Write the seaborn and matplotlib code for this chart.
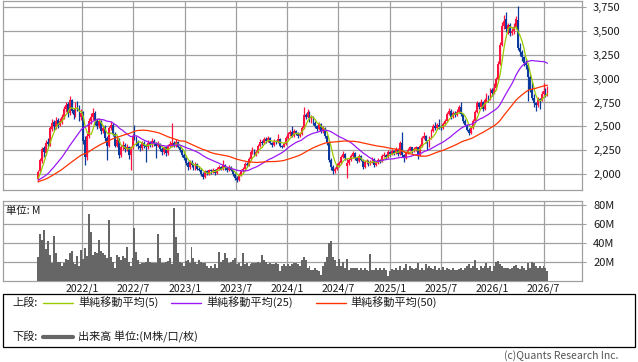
import numpy as np
import pandas as pd
import matplotlib.pyplot as plt
from matplotlib.lines import Line2D
from matplotlib.patches import Rectangle
import seaborn as sns

# weekly closes before the visible window (only used for the moving averages)
prev_closes = [
    1890, 1910, 1900, 1880, 1870, 1895, 1920, 1905, 1890, 1915,
    1930, 1900, 1885, 1905, 1920, 1935, 1910, 1895, 1915, 1940,
    1925, 1905, 1890, 1910, 1930, 1945, 1920, 1935, 1950, 1925,
    1910, 1930, 1955, 1940, 1920, 1935, 1960, 1945, 1925, 1940,
    1955, 1935, 1920, 1945, 1960, 1950, 1930, 1945, 1955,
]

opens = [
    1950, 2030, 2140, 2270, 2220, 2340, 2320, 2470, 2550, 2490,
    2570, 2520, 2550, 2600, 2680, 2730, 2640, 2780, 2670, 2620,
    2730, 2700, 2600, 2650, 2360, 2180, 2400, 2560, 2600, 2640,
    2560, 2500, 2560, 2450, 2490, 2380, 2300, 2480, 2520, 2420,
    2300, 2360, 2200, 2280, 2310, 2260, 2280, 2200, 2280, 2500,
    2380, 2340, 2300, 2270, 2330, 2300, 2280, 2330, 2310, 2350,
    2330, 2300, 2320, 2260, 2230, 2280, 2220, 2300, 2300, 2330,
    2300, 2340, 2290, 2250, 2200, 2170, 2120, 2080, 2130, 2100,
    2070, 2110, 2060, 2050, 2000, 1970, 2030, 2010, 2040, 2030,
    2050, 2010, 2060, 2080, 2060, 2100, 2070, 2040, 2080, 2050,
    2000, 1960, 1940, 1990, 2040, 2060, 2110, 2100, 2160, 2230,
    2250, 2210, 2230, 2300, 2340, 2330, 2370, 2350, 2380, 2330,
    2310, 2350, 2340, 2370, 2300, 2290, 2320, 2380, 2420, 2440,
    2400, 2450, 2430, 2400, 2420, 2480, 2620, 2600, 2650, 2560,
    2600, 2540, 2500, 2470, 2530, 2450, 2480, 2400, 2330, 2150,
    2080, 2030, 2060, 2100, 2120, 2180, 2210, 2090, 2120, 2150,
    2190, 2220, 2170, 2140, 2190, 2150, 2080, 2130, 2140, 2110,
    2130, 2160, 2100, 2120, 2150, 2140, 2190, 2200, 2180, 2230,
    2210, 2240, 2220, 2260, 2210, 2330, 2200, 2170, 2220, 2250,
    2280, 2240, 2260, 2280, 2200, 2300, 2380, 2400, 2350, 2300,
    2380, 2450, 2500, 2480, 2520, 2490, 2480, 2530, 2560, 2630,
    2660, 2600, 2640, 2620, 2650, 2700, 2630, 2560, 2520, 2460,
    2430, 2480, 2560, 2650, 2740, 2700, 2760, 2680, 2780, 2820,
    2790, 2880, 2850, 2900, 3000, 3150, 3350, 3550, 3620, 3520,
    3560, 3480, 3500, 3540, 3610, 3320, 3280, 3220, 3160, 3140,
    3020, 2880, 2800, 2740, 2720, 2790, 2780, 2840, 2870, 2830,
]
highs = [
    2040, 2170, 2290, 2300, 2360, 2380, 2500, 2580, 2570, 2600,
    2590, 2590, 2630, 2710, 2760, 2750, 2815, 2790, 2690, 2750,
    2770, 2720, 2680, 2660, 2400, 2430, 2590, 2640, 2690, 2660,
    2590, 2590, 2570, 2520, 2510, 2400, 2500, 2560, 2540, 2440,
    2400, 2380, 2310, 2350, 2330, 2320, 2300, 2300, 2420, 2520,
    2400, 2360, 2320, 2350, 2350, 2320, 2360, 2350, 2380, 2370,
    2340, 2350, 2330, 2280, 2300, 2290, 2320, 2350, 2540, 2350,
    2370, 2350, 2300, 2260, 2220, 2180, 2140, 2150, 2150, 2120,
    2130, 2120, 2090, 2070, 2020, 2050, 2050, 2060, 2060, 2070,
    2060, 2080, 2100, 2090, 2150, 2110, 2080, 2100, 2090, 2060,
    2010, 1980, 2010, 2060, 2080, 2130, 2130, 2180, 2250, 2280,
    2260, 2250, 2320, 2370, 2360, 2390, 2390, 2400, 2390, 2340,
    2370, 2360, 2420, 2380, 2310, 2340, 2400, 2440, 2460, 2500,
    2470, 2460, 2440, 2440, 2500, 2705, 2640, 2680, 2660, 2620,
    2610, 2560, 2520, 2550, 2540, 2500, 2490, 2410, 2340, 2170,
    2100, 2080, 2120, 2140, 2200, 2240, 2220, 2170, 2170, 2210,
    2240, 2230, 2180, 2210, 2200, 2160, 2150, 2160, 2150, 2150,
    2180, 2170, 2140, 2170, 2160, 2210, 2230, 2210, 2250, 2240,
    2260, 2250, 2280, 2270, 2350, 2440, 2210, 2240, 2270, 2300,
    2290, 2280, 2300, 2290, 2320, 2400, 2440, 2410, 2360, 2400,
    2470, 2530, 2550, 2540, 2580, 2510, 2550, 2580, 2650, 2690,
    2680, 2660, 2660, 2680, 2720, 2750, 2640, 2580, 2530, 2480,
    2500, 2580, 2670, 2770, 2760, 2790, 2770, 2800, 2850, 2830,
    2900, 2900, 2950, 3020, 3180, 3380, 3590, 3660, 3700, 3580,
    3580, 3530, 3580, 3650, 3760, 3370, 3300, 3240, 3200, 3160,
    3040, 2960, 2840, 2760, 2810, 2800, 2870, 2950, 2900, 2920,
]
lows = [
    1920, 2010, 2120, 2180, 2200, 2280, 2300, 2450, 2460, 2470,
    2480, 2500, 2530, 2580, 2650, 2600, 2620, 2640, 2580, 2600,
    2660, 2560, 2570, 2320, 2100, 2150, 2380, 2530, 2570, 2520,
    2470, 2480, 2420, 2430, 2350, 2150, 2280, 2460, 2400, 2280,
    2280, 2170, 2180, 2250, 2230, 2240, 2160, 2040, 2260, 2360,
    2300, 2260, 2240, 2250, 2270, 2130, 2260, 2280, 2290, 2300,
    2170, 2280, 2240, 2200, 2210, 2190, 2200, 2280, 2280, 2280,
    2280, 2270, 2230, 2180, 2150, 2100, 2050, 2060, 2080, 2040,
    2050, 2040, 2030, 1980, 1950, 1960, 1990, 1990, 2000, 2010,
    1990, 2000, 2040, 2040, 2050, 2050, 2020, 2030, 2030, 1980,
    1940, 1915, 1930, 1980, 2020, 2050, 2080, 2090, 2150, 2210,
    2190, 2190, 2220, 2290, 2310, 2320, 2330, 2340, 2320, 2290,
    2300, 2320, 2330, 2290, 2270, 2280, 2310, 2370, 2400, 2390,
    2390, 2410, 2380, 2390, 2410, 2470, 2580, 2590, 2550, 2540,
    2520, 2480, 2450, 2460, 2430, 2430, 2380, 2310, 2130, 2050,
    2000, 2010, 2040, 2080, 2110, 2170, 2150, 1960, 2100, 2140,
    2170, 2150, 2120, 2130, 2140, 2060, 2070, 2110, 2090, 2100,
    2120, 2080, 2090, 2110, 2120, 2130, 2180, 2160, 2170, 2190,
    2200, 2200, 2210, 2190, 2200, 2180, 2130, 2160, 2210, 2240,
    2220, 2230, 2240, 2160, 2190, 2290, 2370, 2330, 2250, 2290,
    2370, 2440, 2460, 2470, 2470, 2460, 2470, 2520, 2550, 2620,
    2580, 2590, 2600, 2610, 2640, 2610, 2540, 2500, 2450, 2410,
    2420, 2470, 2550, 2640, 2680, 2690, 2660, 2670, 2760, 2760,
    2780, 2820, 2840, 2880, 2990, 3140, 3340, 3520, 3490, 3470,
    3440, 3450, 3470, 3520, 3300, 3240, 3180, 3130, 3100, 2770,
    2860, 2780, 2700, 2660, 2700, 2680, 2770, 2820, 2810, 2820,
]
closes = [
    2020, 2150, 2260, 2230, 2330, 2320, 2480, 2540, 2500, 2560,
    2520, 2560, 2600, 2680, 2720, 2640, 2780, 2660, 2620, 2720,
    2690, 2600, 2640, 2350, 2180, 2400, 2560, 2600, 2640, 2560,
    2500, 2560, 2450, 2480, 2380, 2300, 2480, 2520, 2420, 2300,
    2360, 2200, 2280, 2310, 2260, 2280, 2200, 2280, 2400, 2380,
    2340, 2300, 2270, 2330, 2300, 2280, 2330, 2310, 2350, 2330,
    2300, 2320, 2260, 2230, 2280, 2220, 2300, 2320, 2330, 2300,
    2340, 2290, 2250, 2200, 2170, 2120, 2080, 2130, 2100, 2070,
    2110, 2060, 2050, 2000, 1970, 2030, 2010, 2040, 2030, 2050,
    2010, 2060, 2080, 2060, 2100, 2070, 2040, 2080, 2050, 2000,
    1960, 1940, 1990, 2040, 2060, 2110, 2100, 2160, 2230, 2250,
    2210, 2230, 2300, 2340, 2330, 2370, 2350, 2380, 2330, 2310,
    2350, 2340, 2370, 2300, 2290, 2320, 2380, 2420, 2440, 2400,
    2450, 2430, 2400, 2420, 2480, 2620, 2600, 2650, 2560, 2600,
    2540, 2500, 2470, 2530, 2450, 2480, 2400, 2330, 2150, 2080,
    2030, 2060, 2100, 2120, 2180, 2210, 2170, 2120, 2150, 2190,
    2220, 2170, 2140, 2190, 2150, 2080, 2130, 2140, 2110, 2130,
    2160, 2100, 2120, 2150, 2140, 2190, 2200, 2180, 2230, 2210,
    2240, 2220, 2260, 2210, 2330, 2200, 2170, 2220, 2250, 2280,
    2240, 2260, 2280, 2200, 2300, 2380, 2400, 2350, 2300, 2380,
    2450, 2500, 2480, 2520, 2490, 2480, 2530, 2560, 2630, 2660,
    2600, 2640, 2620, 2650, 2700, 2630, 2560, 2520, 2460, 2430,
    2480, 2560, 2650, 2740, 2700, 2760, 2680, 2780, 2820, 2790,
    2880, 2850, 2900, 3000, 3150, 3350, 3550, 3600, 3520, 3560,
    3480, 3500, 3540, 3620, 3320, 3280, 3220, 3160, 3140, 3020,
    2880, 2800, 2740, 2720, 2790, 2780, 2840, 2870, 2830, 2880,
]
# weekly volume, millions
volumes = [
    25, 49, 43, 53, 33, 42, 27, 18, 47, 29,
    20, 20, 15, 19, 23, 22, 29, 31, 20, 17,
    26, 15, 32, 23, 34, 26, 70, 51, 27, 30,
    29, 43, 31, 29, 27, 24, 64, 25, 20, 13,
    27, 25, 22, 26, 24, 35, 20, 15, 24, 55,
    30, 22, 17, 19, 18, 20, 24, 20, 18, 18,
    19, 49, 24, 18, 18, 20, 21, 24, 17, 77,
    46, 29, 20, 18, 15, 21, 22, 19, 35, 24,
    20, 17, 22, 20, 18, 18, 15, 13, 15, 13,
    17, 13, 30, 20, 22, 29, 24, 18, 20, 22,
    24, 17, 18, 15, 29, 17, 18, 15, 17, 18,
    18, 19, 20, 18, 27, 22, 20, 17, 18, 17,
    17, 18, 17, 10, 15, 17, 15, 17, 15, 17,
    18, 18, 17, 15, 22, 25, 22, 13, 15, 11,
    11, 13, 11, 10, 6, 15, 20, 25, 40, 42,
    25, 22, 15, 23, 15, 20, 13, 23, 11, 13,
    13, 13, 13, 11, 13, 11, 13, 11, 10, 28,
    11, 11, 13, 11, 13, 11, 13, 11, 4.5, 10,
    12, 11, 13, 11, 15, 11, 13, 17, 11, 15,
    13, 12, 13, 18, 11, 13, 11, 17, 13, 15,
    13, 12, 15, 11, 13, 11, 14, 11, 13, 12,
    11, 13, 11, 11, 12, 13, 11, 13, 15, 17,
    13, 15, 22, 13, 11, 15, 13, 15, 18, 13,
    15, 10, 15, 20, 21, 17, 15, 13, 13, 13,
    12, 13, 15, 16, 13, 12, 15, 13, 11, 18,
    13, 20, 19, 15, 13, 15, 13, 15, 13, 10,
]

price_ticks = [2000, 2250, 2500, 2750, 3000, 3250, 3500, 3750]
vol_ticks = [20, 40, 60, 80]
grid_months = ['2022-01-01', '2022-07-01', '2023-01-01', '2023-07-01', '2024-01-01',
               '2024-07-01', '2025-01-01', '2025-07-01', '2026-01-01', '2026-07-01']
legend_labels = ['単純移動平均(5)', '単純移動平均(25)', '単純移動平均(50)']

dates = pd.date_range('2021-07-28', periods=len(closes), freq='7D')
df = pd.DataFrame({'date': dates, 'open': opens, 'high': highs, 'low': lows,
                   'close': closes, 'volume': volumes})

all_close = pd.Series(prev_closes + closes, dtype=float)
n0 = len(prev_closes)
for w in (5, 25, 50):
    df[f'ma{w}'] = all_close.rolling(w).mean().iloc[n0:].to_numpy()

sns.set_theme(style='white')
plt.rcParams['font.family'] = ['Noto Sans CJK JP', 'DejaVu Sans']

W, H = 638, 362
fig = plt.figure(figsize=(W / 100, H / 100), dpi=100)
ax = fig.add_axes([3 / W, 1 - 190 / H, 579 / W, 189 / H])
axv = fig.add_axes([3 / W, 1 - 280.5 / H, 579 / W, 79.5 / H])

red, blue = '#ff1440', '#0a3a9e'
up = df['close'] >= df['open']
cols = np.where(up, red, blue)
body_lo = np.minimum(df['open'], df['close'])
body_h = np.maximum(np.abs(df['close'] - df['open']), 6)

ax.vlines(df['date'], df['low'], df['high'], colors=cols, lw=0.9, zorder=3)
ax.bar(df['date'], body_h, bottom=body_lo, width=6.5, color=cols, lw=0, zorder=3)

ma_colors = {'ma5': '#99cc00', 'ma25': '#9b19f5', 'ma50': '#ff3300'}
for key, c in ma_colors.items():
    sns.lineplot(data=df, x='date', y=key, ax=ax, color=c, lw=0.9, zorder=4)

axv.bar(df['date'], df['volume'], width=7, color='#666666', lw=0, zorder=3)

x0 = pd.Timestamp('2021-03-25')
x1 = pd.Timestamp('2026-11-15')
grid_dates = pd.to_datetime(grid_months)
grid_labels = [f'{d.year}/{d.month}' for d in grid_dates]

for a in (ax, axv):
    a.set_xlim(x0, x1)
    a.set_xticks(grid_dates)
    a.grid(True, color='#a0a0a0', lw=0.9, zorder=0)
    a.set_xlabel('')
    a.set_ylabel('')
    a.yaxis.tick_right()
    a.tick_params(axis='y', length=3, width=0.8, color='#a0a0a0', pad=5,
                  labelsize=8, labelcolor='#1a1a1a')
    a.tick_params(axis='x', length=0, pad=2, labelsize=7.5, labelcolor='#1a1a1a')
    for s in a.spines.values():
        s.set_visible(True)
        s.set_color('#a0a0a0')
        s.set_linewidth(0.9)

ax.set_ylim(1836, 3810)
ax.set_yticks(price_ticks)
ax.set_yticklabels([f'{v:,}' for v in price_ticks])
ax.set_xticklabels([])

axv.set_ylim(0, 84)
axv.set_yticks(vol_ticks)
axv.set_yticklabels([f'{v}M' for v in vol_ticks])
axv.set_xticklabels(grid_labels)
axv.text(0.006, 0.88, '単位: M', transform=axv.transAxes, fontsize=7.5,
         color='#1a1a1a', ha='left', va='center', zorder=5)


def fx(px):
    return px / W


def fy(py):
    return 1 - py / H


fig.add_artist(Rectangle((fx(3), fy(346.5)), fx(632), 52.5 / H, fill=False,
                         edgecolor='black', lw=0.9, transform=fig.transFigure))
fs = 8
fig.text(fx(12), fy(302.5), '上段:', fontsize=fs, va='center', color='#1a1a1a')
fig.text(fx(12), fy(336.5), '下段:', fontsize=fs, va='center', color='#1a1a1a')
for (lx0, lx1, tx), lab, c in zip([(43, 73, 78), (171, 201, 206), (316, 346, 350)],
                                 legend_labels, ma_colors.values()):
    fig.add_artist(Line2D([fx(lx0), fx(lx1)], [fy(302.5), fy(302.5)], color=c,
                          lw=1.0, transform=fig.transFigure))
    fig.text(fx(tx), fy(302.5), lab, fontsize=fs, va='center', color='#1a1a1a')
fig.add_artist(Line2D([fx(43), fx(73)], [fy(336.5), fy(336.5)], color='#666666',
                      lw=3.0, transform=fig.transFigure))
fig.text(fx(78), fy(336.5), '出来高 単位:(M株/口/枚)', fontsize=fs, va='center',
         color='#1a1a1a')
fig.text(fx(618), fy(356), '(c)Quants Research Inc.', fontsize=7.5, ha='right',
         va='center', color='#555555')

fig.savefig('out.png', dpi=100)
